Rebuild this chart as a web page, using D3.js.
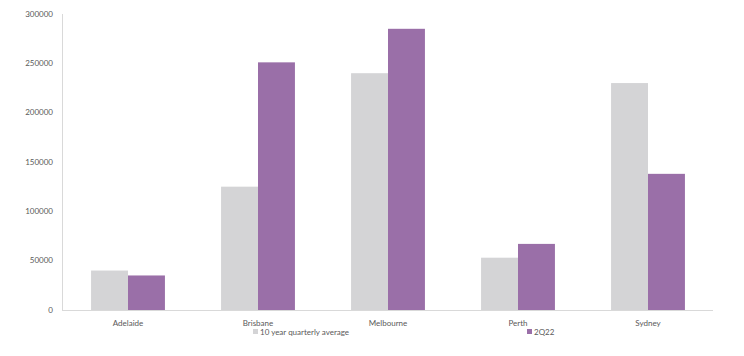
<!DOCTYPE html>
<html><head><meta charset="utf-8">
<script src="https://cdn.jsdelivr.net/npm/d3@7"></script>
<style>body{margin:0;background:#fff}svg{display:block}text{font-family:Lato,"Open Sans",sans-serif;fill:#595959}</style>
</head><body>
<script>
const categories = ["Adelaide","Brisbane","Melbourne","Perth","Sydney"];
const seriesNames = ["10 year quarterly average","2Q22"];
const avg10y = [40000,125000,240000,53000,230000];
const q2_22 = [35000,251000,285000,67000,138000];
const yTicks = [0,50000,100000,150000,200000,250000,300000];
const colors = ["#d4d4d6","#9a6fa8"];

const W=744,H=356;
const svg=d3.select("body").append("svg").attr("width",W).attr("height",H);
const x=d3.scaleBand().domain(categories).range([63,713]).padding(0);
const xi=d3.scaleBand().domain([0,1]).range([0,x.bandwidth()]).paddingInner(0).paddingOuter(0.76);
const y=d3.scaleLinear().domain([0,300000]).range([310,14]);

svg.append("g").selectAll("text").data(yTicks).join("text")
  .attr("x",53).attr("y",d=>y(d)).attr("dy","0.35em").attr("text-anchor","end")
  .attr("font-size",8).text(d=>d);

const series=[avg10y,q2_22];
series.forEach((vals,si)=>{
  svg.append("g").selectAll("rect").data(vals).join("rect")
    .attr("x",(d,i)=>x(categories[i])+xi(si)).attr("width",xi.bandwidth())
    .attr("y",d=>y(d)).attr("height",d=>y(0)-y(d)).attr("fill",colors[si]);
});

svg.append("line").attr("x1",62.5).attr("x2",62.5).attr("y1",y(300000)).attr("y2",y(0)).attr("stroke","#d9d9d9");
svg.append("line").attr("x1",62).attr("x2",713).attr("y1",310.5).attr("y2",310.5).attr("stroke","#d9d9d9");

svg.append("g").selectAll("text").data(categories).join("text")
  .attr("x",d=>x(d)+x.bandwidth()/2).attr("y",323).attr("dy","0.35em").attr("text-anchor","middle")
  .attr("font-size",8).text(d=>d);

const legX=[253,527];
seriesNames.forEach((n,i)=>{
  svg.append("rect").attr("x",legX[i]).attr("y",329).attr("width",5).attr("height",5).attr("fill",colors[i]);
  svg.append("text").attr("x",legX[i]+7).attr("y",332).attr("dy","0.35em").attr("font-size",8).text(n);
});
</script>
</body></html>
